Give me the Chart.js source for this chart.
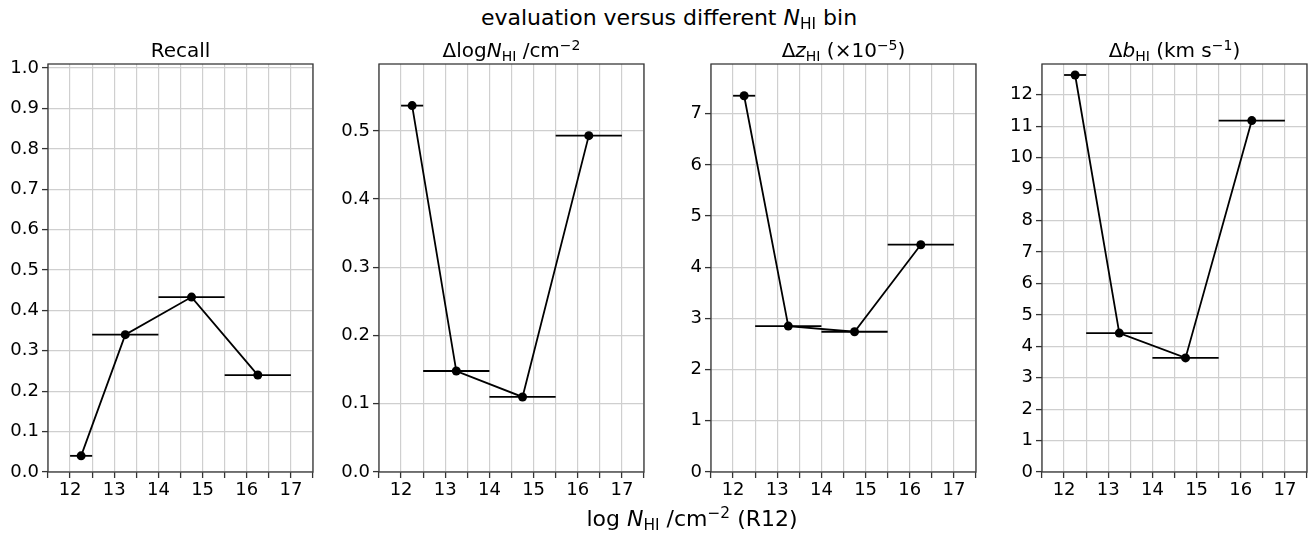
<!DOCTYPE html>
<html>
<head>
<meta charset="utf-8">
<script src="https://cdn.jsdelivr.net/npm/chart.js@4.4.1/dist/chart.umd.min.js"></script>
<style>
  html, body { margin:0; padding:0; background:#fff; }
  body { width:1309px; height:533px; overflow:hidden; position:relative; font-family:'DejaVu Sans', sans-serif; color:#000; }
  canvas { position:absolute; }
  .txt { position:absolute; white-space:nowrap; text-align:center; line-height:1; }
  .sub { font-size:0.7em; position:relative; top:0.28em; }
  .sup { font-size:0.7em; position:relative; top:-0.5em; }
  i { font-style:italic; }
</style>
</head>
<body>
<script>
// ---- data ----
const binEdges   = [12, 12.5, 14, 15.5, 17];
const binCenters = [12.25, 13.25, 14.75, 16.25];
const xTickLabels = [12, 13, 14, 15, 16, 17];
const recall = [0.040, 0.340, 0.433, 0.240];
const dLogN  = [0.537, 0.148, 0.110, 0.493];
const dZ     = [7.35, 2.85, 2.74, 4.44];
const dB     = [12.63, 4.42, 3.63, 11.18];

const titles = [
  'Recall',
  '\u0394log<i>N</i><span class="sub">HI</span> /cm<span class="sup">\u22122</span>',
  '\u0394<i>z</i><span class="sub">HI</span> (\u00d710<span class="sup">\u22125</span>)',
  '\u0394<i>b</i><span class="sub">HI</span> (km s<span class="sup">\u22121</span>)'
];

const panels = [
  { values: recall, yMax: 1.01,  step: 0.1, dec: 1 },
  { values: dLogN,  yMax: 0.598, step: 0.1, dec: 1 },
  { values: dZ,     yMax: 7.97,  step: 1,   dec: 0 },
  { values: dB,     yMax: 12.98, step: 1,   dec: 0 }
];

const plotLefts = [48, 379, 711, 1042];
const plotW = 265, axisW = 48, padTop = 14, padRight = 10, xAxisH = 40;
const canvasTop = 50, plotH = 408;

const framePlugin = {
  id: 'frame',
  afterDraw(chart) {
    const a = chart.chartArea, ctx = chart.ctx;
    ctx.save();
    ctx.strokeStyle = '#3a3a3a';
    ctx.lineWidth = 1.3;
    ctx.strokeRect(a.left, a.top, a.right - a.left, a.bottom - a.top);
    ctx.restore();
  }
};

function addText(html, cx, cy, size) {
  const d = document.createElement('div');
  d.className = 'txt';
  d.style.fontSize = size + 'px';
  d.innerHTML = html;
  document.body.appendChild(d);
  const r = d.getBoundingClientRect();
  d.style.left = (cx - r.width / 2) + 'px';
  d.style.top = (cy - size * 0.5) + 'px';
}

panels.forEach((p, k) => {
  const c = document.createElement('canvas');
  const W = axisW + plotW + padRight, H = padTop + plotH + xAxisH;
  c.width = W; c.height = H;
  c.style.left = (plotLefts[k] - axisW) + 'px';
  c.style.top = canvasTop + 'px';
  c.style.width = W + 'px'; c.style.height = H + 'px';
  document.body.appendChild(c);

  const datasets = [{
    data: binCenters.map((x, i) => ({ x, y: p.values[i] })),
    showLine: true, borderColor: '#000', borderWidth: 1.8,
    pointRadius: 4.5, pointBackgroundColor: '#000', pointBorderWidth: 0,
    pointBorderColor: '#000'
  }];
  for (let i = 0; i < binCenters.length; i++) {
    datasets.push({
      data: [{ x: binEdges[i], y: p.values[i] }, { x: binEdges[i + 1], y: p.values[i] }],
      showLine: true, borderColor: '#000', borderWidth: 1.8, pointRadius: 0
    });
  }

  new Chart(c, {
    type: 'scatter',
    data: { datasets },
    options: {
      responsive: false, animation: false, events: [],
      devicePixelRatio: 1,
      layout: { padding: { top: padTop, right: padRight, left: 0, bottom: 0 } },
      plugins: { legend: { display: false }, tooltip: { enabled: false }, title: { display: false } },
      scales: {
        x: {
          type: 'linear', min: 11.5, max: 17.5,
          afterFit(s) { s.height = xAxisH; },
          border: { display: false },
          grid: { color: '#cfcfcf', lineWidth: 1.2, tickLength: 6, tickColor: '#333', tickWidth: 1.3 },
          ticks: {
            stepSize: 0.5, autoSkip: false, maxRotation: 0, minRotation: 0, includeBounds: false,
            padding: 2, color: '#000', font: { family: 'DejaVu Sans', size: 18 },
            callback: v => xTickLabels.includes(v) ? String(v) : ''
          }
        },
        y: {
          type: 'linear', min: 0, max: p.yMax,
          afterFit(s) { s.width = axisW; },
          border: { display: false },
          grid: { color: '#cfcfcf', lineWidth: 1.2, tickLength: 6, tickColor: '#333', tickWidth: 1.3 },
          ticks: {
            stepSize: p.step, autoSkip: false, includeBounds: false,
            padding: 3, color: '#000', font: { family: 'DejaVu Sans', size: 18 },
            callback: v => Number(v).toFixed(p.dec)
          }
        }
      }
    },
    plugins: [framePlugin]
  });

  addText(titles[k], plotLefts[k] + plotW / 2, 50, 20);
});

addText('evaluation versus different <i>N</i><span class="sub">HI</span> bin', 669, 18, 22);
addText('log <i>N</i><span class="sub">HI</span> /cm<span class="sup">\u22122</span> (R12)', 692, 519, 22);
</script>
</body>
</html>
